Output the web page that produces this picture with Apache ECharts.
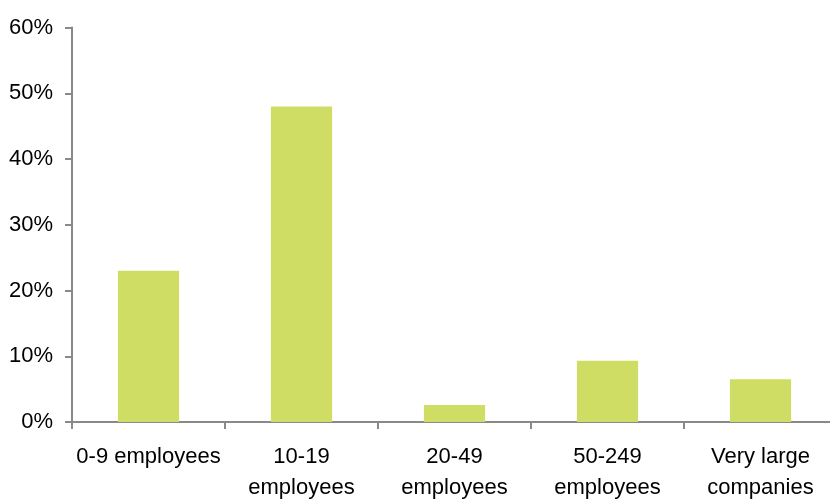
<!DOCTYPE html>
<html>
<head>
<meta charset="utf-8">
<script src="https://cdn.jsdelivr.net/npm/echarts@6/dist/echarts.min.js"></script>
<style>html,body{margin:0;padding:0;background:#fff}#c{width:830px;height:502px}</style>
</head>
<body>
<div id="c"></div>
<script>
var categories = ["0-9 employees", "10-19\nemployees", "20-49\nemployees", "50-249\nemployees", "Very large\ncompanies"];
var values = [23, 48, 2.6, 9.3, 6.5];
var yTicks = { min: 0, max: 60, interval: 10 };

var FONT = '"Liberation Sans", Arial, sans-serif';
var chart = echarts.init(document.getElementById('c'), null, { renderer: 'canvas' });
chart.setOption({
  animation: false,
  grid: { left: 72, right: -7, top: 27.5, bottom: 80, containLabel: false, outerBoundsMode: 'none' },
  xAxis: {
    type: 'category',
    data: categories,
    axisLine: { lineStyle: { color: '#898989', width: 2 } },
    axisTick: { show: true, length: 7, alignWithLabel: false, lineStyle: { color: '#898989', width: 2 } },
    axisLabel: { color: '#000', fontFamily: FONT, fontSize: 22, lineHeight: 31, margin: 19, interval: 0 }
  },
  yAxis: {
    type: 'value',
    min: yTicks.min, max: yTicks.max, interval: yTicks.interval,
    axisLine: { show: true, lineStyle: { color: '#898989', width: 2 } },
    axisTick: { show: true, length: 7, lineStyle: { color: '#898989', width: 2 } },
    splitLine: { show: false },
    axisLabel: { color: '#000', fontFamily: FONT, fontSize: 22, margin: 19, padding: [0, 0, 6, 0], formatter: '{value}%' }
  },
  series: [{
    type: 'bar',
    data: values,
    barWidth: '40%',
    itemStyle: { color: '#cfdd64' }
  }]
});
</script>
</body>
</html>
